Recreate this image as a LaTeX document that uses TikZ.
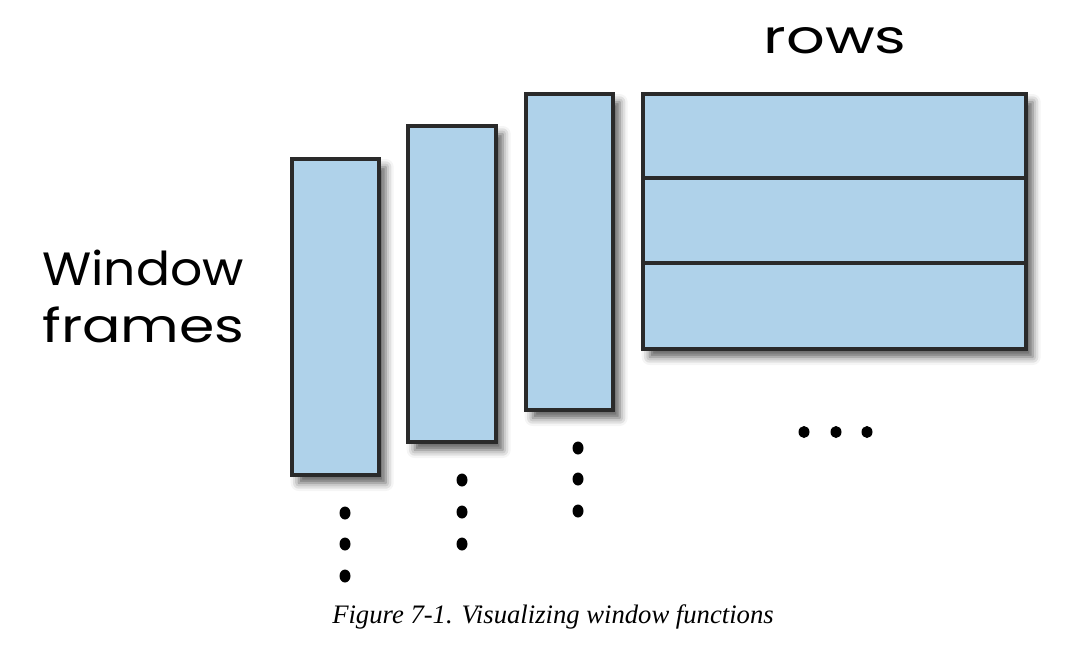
\documentclass[tikz,border=0pt]{standalone}
\usepackage{fontspec}
\setmainfont{Liberation Serif}
\newfontfamily\handfont{Poppins}
\usetikzlibrary{shadows.blur,fit}
\definecolor{barfill}{HTML}{AFD2EA}
\definecolor{barline}{HTML}{2A2A2A}
\tikzset{
  bar/.style={draw=barline, fill=barfill, line width=3.2pt, inner sep=0pt,
    blur shadow={shadow xshift=5pt, shadow yshift=-6pt, shadow blur radius=6pt, shadow opacity=65}},
  divider/.style={draw=barline, line width=2.6pt},
  hand/.style={font=\handfont\fontsize{35}{40}\selectfont, inner sep=0pt},
}
\begin{document}
\begin{tikzpicture}[x=0.75pt,y=-0.75pt]
\useasboundingbox (0,0) rectangle (1084,651);
\node[bar, fit={(292,159) (379,475)}] (b1) {};
\node[bar, fit={(408,126) (496,442)}] (b2) {};
\node[bar, fit={(526,94) (613,410)}] (b3) {};
\node[bar, fit={(643,94) (1026,349)}] (rows) {};
\draw[divider] (rows.west |- 0,178) -- (rows.east |- 0,178);
\draw[divider] (rows.west |- 0,263) -- (rows.east |- 0,263);
\node[hand, anchor=base, xscale=1.3] (rowslbl) at (835,53) {rows};
\node[hand, anchor=base west, xscale=1.08] (win1) at (42,285) {Window};
\node[hand, anchor=base west, xscale=1.22] (win2) at (42,342) {frames};
\foreach \y in {513,544,576} \fill (345,\y) ellipse [x radius=5.5, y radius=6.5];
\foreach \y in {480,512,544} \fill (462,\y) ellipse [x radius=5.5, y radius=6.5];
\foreach \y in {448,479,511} \fill (578,\y) ellipse [x radius=5.5, y radius=6.5];
\foreach \x in {804,836,867} \fill (\x,432) ellipse [x radius=5.5, y radius=6];
\node[font=\itshape\fontsize{20}{24}\selectfont, anchor=base] (cap) at (553,623) {Figure 7-1. Visualizing window functions};
\end{tikzpicture}
\end{document}
